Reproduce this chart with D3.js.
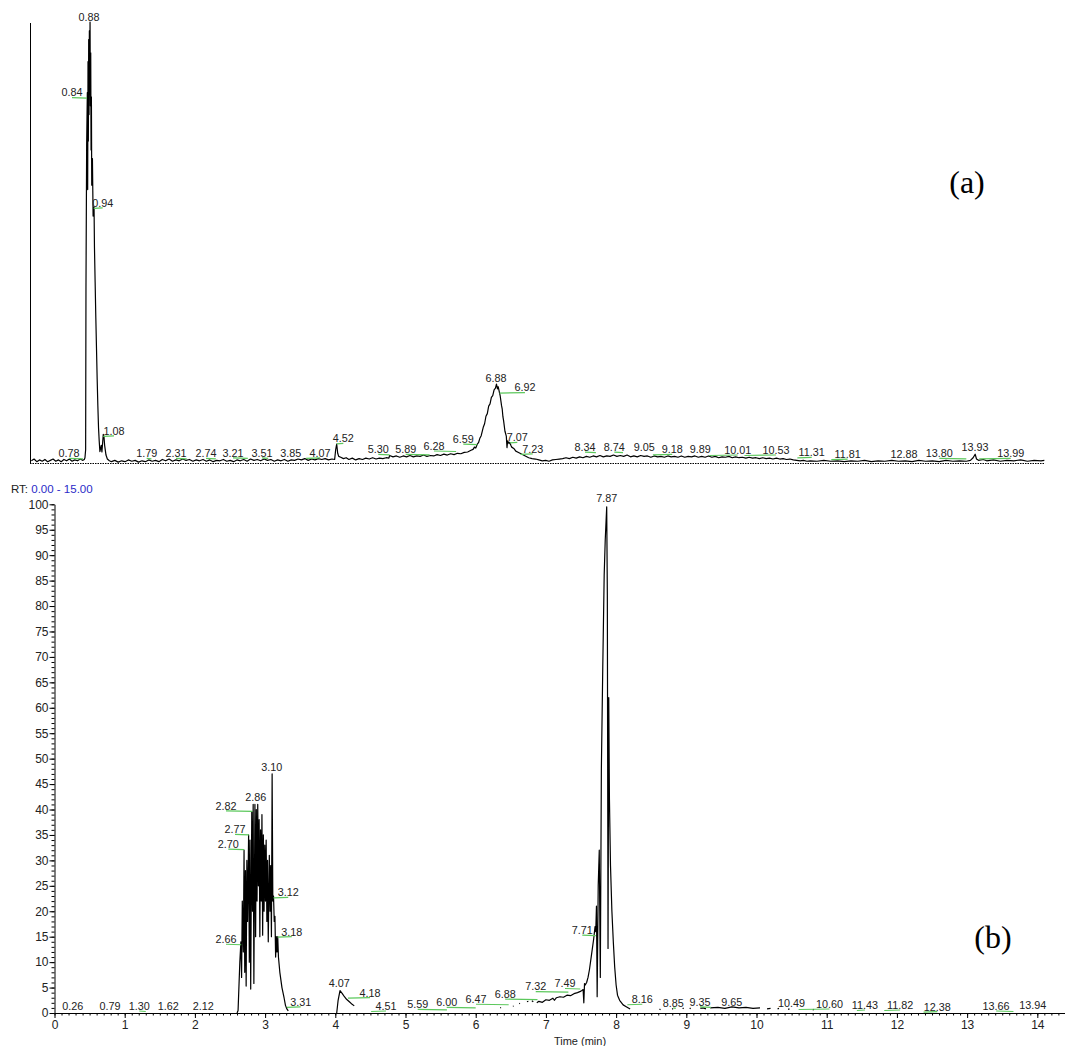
<!DOCTYPE html>
<html>
<head>
<meta charset="utf-8">
<script src="https://cdn.jsdelivr.net/npm/d3@7"></script>
<style>
  body { margin: 0; background: #fff; }
  text { font-family: Arial, "Liberation Sans", sans-serif; fill: #222; }
  .trace { fill: none; stroke: #000; stroke-width: 1.2; stroke-linejoin: round; }
  .lead { stroke: #5cc85c; stroke-width: 1.2; }
  .axis path, .axis line { stroke: #000; }
  .axis text { font-size: 12px; fill: #222; }
</style>
</head>
<body>
<svg id="chart" width="1065" height="1046"></svg>
<script>
// ---- data (time in min, relative abundance %) ----

// (a) upper trace
const traceA = [
  [0.02,0.5],[0.06,0.9],[0.10,0.3],[0.14,0.7],[0.18,0.4],[0.22,0.8],[0.26,0.3],[0.30,0.6],[0.34,0.9],[0.38,0.4],
  [0.42,0.7],[0.46,0.3],[0.50,0.8],[0.54,0.5],[0.58,0.9],[0.62,0.4],[0.66,0.7],[0.70,0.5],[0.74,0.9],[0.78,0.6],
  [0.80,0.8],[0.81,1.2],[0.82,3],[0.825,40],[0.835,72],[0.845,84],[0.85,62],[0.855,91],[0.86,73],[0.865,96],
  [0.87,79],[0.875,98],[0.88,86],[0.885,100],[0.89,81],[0.895,93],[0.90,71],[0.905,83],[0.91,63],[0.92,69],
  [0.93,56],[0.944,58],[0.95,49],[0.96,41],[0.97,33],[0.98,26],[0.99,19],[1.00,13],[1.01,8],[1.02,5],
  [1.03,2.6],[1.05,4],[1.06,2.5],[1.08,6.5],[1.09,6],[1.10,4],[1.12,1.8],[1.14,0.9],[1.17,0.5],
  [1.2,0.3],[1.25,0.6],[1.3,0.2],[1.35,0.5],[1.4,0.3],[1.45,0.7],[1.5,0.4],[1.55,0.6],[1.6,0.2],[1.65,0.5],
  [1.7,0.3],[1.75,0.7],[1.8,0.4],[1.85,0.6],[1.9,0.3],[1.95,0.8],[2.0,0.5],[2.05,0.9],[2.1,0.4],[2.15,0.7],
  [2.2,0.5],[2.25,0.9],[2.3,0.6],[2.35,0.8],[2.4,0.4],[2.45,0.7],[2.5,0.5],[2.55,0.8],[2.6,0.4],[2.65,0.7],
  [2.7,0.3],[2.75,0.6],[2.8,0.5],[2.85,0.8],[2.9,0.4],[2.95,0.6],[3.0,0.3],[3.05,0.7],[3.1,0.5],[3.15,0.8],
  [3.2,0.4],[3.25,0.9],[3.3,0.6],[3.35,0.8],[3.4,0.5],[3.45,0.9],[3.5,0.6],[3.55,0.8],[3.6,0.4],[3.65,0.7],
  [3.7,0.5],[3.75,0.8],[3.8,0.4],[3.85,0.7],[3.9,0.6],[3.95,0.9],[4.0,0.7],[4.05,1.0],[4.1,0.6],[4.15,0.9],
  [4.2,0.7],[4.25,1.0],[4.3,0.8],[4.35,1.0],[4.4,0.7],[4.45,0.9],[4.49,0.8],[4.505,3.0],[4.52,4.3],[4.535,2.2],
  [4.55,1.5],[4.58,1.3],[4.62,1.0],[4.66,1.2],[4.7,0.8],[4.75,1.1],[4.8,0.7],[4.85,1.0],[4.9,0.8],[4.95,1.1],
  [5.0,0.9],[5.05,1.2],[5.1,0.9],[5.15,1.1],[5.2,1.0],[5.25,1.2],[5.29,1.1],[5.30,1.7],[5.35,1.4],[5.4,1.6],
  [5.45,1.3],[5.5,1.6],[5.55,1.4],[5.6,1.7],[5.65,1.4],[5.7,1.6],[5.75,1.5],[5.8,1.8],[5.85,1.5],[5.9,1.7],
  [5.95,1.6],[6.0,1.9],[6.05,1.7],[6.1,2.0],[6.15,1.8],[6.2,2.1],[6.25,1.9],[6.3,2.2],[6.35,2.1],[6.4,2.4],
  [6.45,2.5],[6.5,2.9],[6.53,3.1],[6.55,3.6],[6.57,3.4],[6.59,4.2],[6.61,4.6],[6.63,5.6],[6.65,6.2],[6.68,8.1],
  [6.70,8.9],[6.72,10.6],[6.74,11.2],[6.76,12.9],[6.78,13.4],[6.80,14.9],[6.82,15.3],[6.84,16.6],[6.86,17.0],[6.875,17.9],
  [6.89,16.8],[6.90,17.3],[6.92,15.9],[6.93,15.2],[6.95,13.0],[6.96,12.2],[6.97,10.5],[6.98,9.6],[7.00,7.2],[7.02,6.1],
  [7.03,3.5],[7.04,5.0],[7.06,4.4],[7.07,4.7],[7.09,3.9],[7.10,3.6],[7.13,3.3],[7.16,2.7],[7.20,2.4],[7.25,2.0],
  [7.30,1.6],[7.35,1.2],[7.40,1.0],[7.45,0.9],[7.50,0.7],
  [7.55,0.5],[7.60,0.6],[7.65,0.4],[7.70,0.7],[7.75,0.8],[7.80,0.9],[7.85,1.0],[7.9,1.2],[7.95,1.0],[8.0,1.3],
  [8.05,1.1],[8.1,1.4],[8.15,1.2],[8.2,1.5],[8.25,1.3],[8.3,1.6],[8.35,1.4],[8.4,1.7],[8.45,1.4],[8.5,1.6],
  [8.55,1.5],[8.6,1.8],[8.65,1.5],[8.7,1.7],[8.75,1.5],[8.8,1.8],[8.85,1.4],[8.9,1.6],[8.95,1.4],[9.0,1.7],
  [9.05,1.5],[9.1,1.6],[9.15,1.3],[9.2,1.6],[9.25,1.4],[9.3,1.5],[9.35,1.3],[9.4,1.6],[9.45,1.4],[9.5,1.5],
  [9.55,1.3],[9.6,1.6],[9.65,1.3],[9.7,1.5],[9.75,1.4],[9.8,1.6],[9.85,1.3],[9.9,1.5],[9.95,1.3],[10.0,1.6],
  [10.05,1.3],[10.1,1.5],[10.15,1.2],[10.2,1.4],[10.25,1.3],[10.3,1.5],[10.35,1.2],[10.4,1.4],[10.45,1.2],[10.5,1.3],
  [10.55,1.1],[10.6,1.3],[10.65,1.1],[10.7,1.2],[10.75,1.0],[10.8,1.2],[10.85,1.0],[10.9,1.1],[10.95,0.9],[11.0,1.1],
  [11.05,0.9],[11.1,1.0],[11.15,0.8],[11.2,0.9],[11.25,0.7],[11.3,0.6],[11.35,0.5],[11.4,0.6],[11.45,0.4],[11.5,0.5],
  [11.6,0.4],[11.7,0.6],[11.8,0.4],[11.9,0.5],[12.0,0.3],[12.1,0.5],[12.2,0.4],[12.3,0.6],[12.4,0.3],[12.5,0.5],
  [12.6,0.4],[12.7,0.6],[12.8,0.4],[12.9,0.5],[13.0,0.3],[13.1,0.6],[13.2,0.4],[13.3,0.5],[13.4,0.3],[13.5,0.6],
  [13.6,0.4],[13.7,0.5],[13.8,0.4],[13.86,0.6],[13.90,1.2],[13.93,2.0],[13.95,0.9],[13.98,0.6],[14.05,0.8],[14.1,0.5],
  [14.2,0.7],[14.3,0.4],[14.4,0.6],[14.5,0.5],[14.6,0.7],[14.7,0.4],[14.8,0.6],[14.9,0.5],[14.95,0.6]
];

// (a) peak labels: text, label time, label level (centre of text)
const peaksA = [
  { rt: "0.88", lt: 0.87,  ly: 101.0 }, { rt: "0.84", lt: 0.619, ly: 84.0 },
  { rt: "0.94", lt: 1.071, ly: 59.0 },  { rt: "0.78", lt: 0.575, ly: 2.2 },
  { rt: "1.08", lt: 1.238, ly: 7.3 },   { rt: "1.79", lt: 1.72,  ly: 2.2 },
  { rt: "2.31", lt: 2.152, ly: 2.2 },   { rt: "2.74", lt: 2.594, ly: 2.2 },
  { rt: "3.21", lt: 2.992, ly: 2.3 },   { rt: "3.51", lt: 3.419, ly: 2.3 },
  { rt: "3.85", lt: 3.842, ly: 2.3 },   { rt: "4.07", lt: 4.274, ly: 2.3 },
  { rt: "4.52", lt: 4.618, ly: 5.6 },   { rt: "5.30", lt: 5.133, ly: 3.1 },
  { rt: "5.89", lt: 5.537, ly: 3.1 },   { rt: "6.28", lt: 5.954, ly: 3.85 },
  { rt: "6.59", lt: 6.386, ly: 5.4 },   { rt: "6.88", lt: 6.868, ly: 19.2 },
  { rt: "6.92", lt: 7.295, ly: 17.1 },  { rt: "7.07", lt: 7.182, ly: 5.8 },
  { rt: "7.23", lt: 7.409, ly: 3.2 },   { rt: "8.34", lt: 8.18,  ly: 3.6 },
  { rt: "8.74", lt: 8.612, ly: 3.6 },   { rt: "9.05", lt: 9.054, ly: 3.6 },
  { rt: "9.18", lt: 9.466, ly: 3.1 },   { rt: "9.89", lt: 9.88,  ly: 3.2 },
  { rt: "10.01", lt: 10.43, ly: 2.95 }, { rt: "10.53", lt: 10.995, ly: 2.95 },
  { rt: "11.31", lt: 11.521, ly: 2.4 }, { rt: "11.81", lt: 12.051, ly: 2.0 },
  { rt: "12.88", lt: 12.881, ly: 2.0 }, { rt: "13.80", lt: 13.402, ly: 2.2 },
  { rt: "13.93", lt: 13.928, ly: 3.6 }, { rt: "13.99", lt: 14.454, ly: 2.2 }
];

// (b) lower trace, null = no signal drawn
const traceB = [
  [2.60,0],[2.615,0.5],[2.64,10],[2.655,14],[2.665,7],[2.675,22],[2.69,12],[2.70,32],[2.71,8],[2.72,28],
  [2.73,5.3],[2.74,30],[2.75,18],[2.765,35],[2.775,10],[2.785,34],[2.795,4.7],[2.81,39.6],[2.82,20],[2.83,41],
  [2.84,5.8],[2.855,41],[2.865,15],[2.875,40],[2.885,22],[2.895,41],[2.905,25],[2.915,38],[2.925,15],[2.935,36],
  [2.945,22],[2.955,39],[2.965,15.3],[2.975,35],[2.985,20],[2.995,33],[3.005,22],[3.015,34],[3.025,18],[3.035,30],
  [3.045,14],[3.06,31],[3.07,20],[3.08,29],[3.09,15],[3.10,47],[3.11,22],[3.12,23],[3.13,18],[3.14,19],
  [3.15,11],[3.16,15],[3.17,12],[3.18,15],[3.19,11],[3.21,8],[3.24,5],[3.27,3],[3.29,1.5],[3.31,0.8],[3.33,0.4],
  null,
  [4.02,0],[4.04,2.5],[4.067,4.4],[4.10,3.8],[4.13,3.2],[4.16,2.7],[4.20,2.2],[4.24,1.7],[4.27,1.4],
  null, [6.35,1.0],[6.36,1.1], null, [6.53,1.3],[6.54,1.4], null, [6.62,1.8],[6.63,1.9], null,
  [6.73,2.2],[6.75,2.3], null, [6.80,2.4],[6.82,2.2], null,
  [6.87,2.0],[6.90,2.3],[6.95,2.1],[7.00,2.6],[7.05,2.5],[7.10,2.9],[7.12,2.5],[7.15,3.0],[7.2,3.2],[7.25,3.1],
  [7.30,3.5],[7.35,3.4],[7.40,3.8],[7.45,4.0],[7.50,4.3],[7.53,4.6],[7.54,2.0],[7.55,5.8],[7.56,5.5],[7.58,6],
  [7.60,7],[7.62,8.5],[7.64,10.5],[7.66,12.5],[7.68,14.5],[7.70,17],[7.71,16],[7.72,21],[7.73,3.2],[7.745,25],
  [7.76,32],[7.775,7],[7.79,48],[7.81,68],[7.83,86],[7.845,93],[7.866,99.5],[7.875,82],[7.885,12.7],[7.895,62],
  [7.905,42],[7.92,29],[7.94,20],[7.96,14],[7.98,9],[8.00,5.5],[8.02,3.5],[8.05,2.5],[8.10,1.6],[8.15,1.2],[8.20,0.8],
  null, [8.62,0.6],[8.63,0.8], null, [8.80,0.9],[8.81,0.7], null, [8.95,1.0],[8.96,0.8], null,
  [9.05,0.8],[9.06,1.0], null, [9.20,0.9],[9.24,1.0],[9.28,0.8], null,
  [9.34,1.0],[9.45,1.1],[9.55,0.9],[9.65,1.2],[9.75,1.0],[9.85,1.1],[9.95,0.9],[10.05,1.0], null,
  [10.15,0.8],[10.2,0.9], null, [10.3,0.8],[10.32,0.9], null, [10.45,0.7],[10.47,0.8], null, [10.8,0.6],[10.82,0.7]
];

const peaksB = [
  { rt: "0.26", lt: 0.259, ly: 1.38 }, { rt: "0.79", lt: 0.79, ly: 1.38 },
  { rt: "1.30", lt: 1.208, ly: 1.38 }, { rt: "1.62", lt: 1.62, ly: 1.38 },
  { rt: "2.12", lt: 2.12, ly: 1.38 },  { rt: "2.66", lt: 2.443, ly: 14.5 },
  { rt: "2.70", lt: 2.476, ly: 33.2 }, { rt: "2.77", lt: 2.571, ly: 36.1 },
  { rt: "2.82", lt: 2.443, ly: 40.7 }, { rt: "2.86", lt: 2.866, ly: 42.4 },
  { rt: "3.10", lt: 3.094, ly: 48.3 }, { rt: "3.12", lt: 3.33, ly: 23.7 },
  { rt: "3.18", lt: 3.38, ly: 16.0 },  { rt: "3.31", lt: 3.507, ly: 2.2 },
  { rt: "4.07", lt: 4.057, ly: 5.96 }, { rt: "4.18", lt: 4.494, ly: 4.0 },
  { rt: "4.51", lt: 4.722, ly: 1.38 }, { rt: "5.59", lt: 5.174, ly: 1.7 },
  { rt: "6.00", lt: 5.587, ly: 2.1 },  { rt: "6.47", lt: 6.004, ly: 2.7 },
  { rt: "6.88", lt: 6.42, ly: 3.7 },   { rt: "7.32", lt: 6.855, ly: 5.2 },
  { rt: "7.49", lt: 7.272, ly: 5.8 },  { rt: "7.71", lt: 7.518, ly: 16.3 },
  { rt: "7.87", lt: 7.866, ly: 101.2 },{ rt: "8.16", lt: 8.373, ly: 2.7 },
  { rt: "8.85", lt: 8.815, ly: 2.0 },  { rt: "9.35", lt: 9.195, ly: 2.2 },
  { rt: "9.65", lt: 9.646, ly: 2.2 },  { rt: "10.49", lt: 10.50, ly: 2.0 },
  { rt: "10.60", lt: 11.04, ly: 1.77 },{ rt: "11.43", lt: 11.545, ly: 1.57 },
  { rt: "11.82", lt: 12.045, ly: 1.57 },{ rt: "12.38", lt: 12.576, ly: 1.24 },
  { rt: "13.66", lt: 13.413, ly: 1.38 },{ rt: "13.94", lt: 13.934, ly: 1.5 }
];

const xTickLabels = [0, 1, 2, 3, 4, 5, 6, 7, 8, 9, 10, 11, 12, 13, 14];
const yTickLabels = [0, 5, 10, 15, 20, 25, 30, 35, 40, 45, 50, 55, 60, 65, 70, 75, 80, 85, 90, 95, 100];

// ---- drawing ----
const svg = d3.select("#chart");

// upper panel scales
const xA = d3.scaleLinear().domain([0, 15]).range([30, 1047.75]);
const yA = d3.scaleLinear().domain([0, 100]).range([463, 22]);

// lower panel scales
const xB = d3.scaleLinear().domain([0, 14.4]).range([54.5, 1065.4]);
const yB = d3.scaleLinear().domain([0, 100]).range([1013, 504.3]);

function drawTrace(data, x, y) {
  const line = d3.line()
    .defined(d => d !== null)
    .x(d => x(d[0]))
    .y(d => y(d[1]));
  svg.append("path").datum(data).attr("class", "trace").attr("d", line);
}

function drawLabels(peaks, x, y) {
  const g = svg.append("g");
  peaks.forEach(p => {
    const px = x(+p.rt), lx = x(p.lt), cy = y(p.ly);
    if (Math.abs(px - lx) > 2) {
      g.append("line").attr("class", "lead")
        .attr("x1", px).attr("y1", cy + 5.5)
        .attr("x2", lx).attr("y2", cy + 5);
    }
    g.append("text")
      .attr("x", lx).attr("y", cy + 3.9)
      .attr("text-anchor", "middle")
      .style("font-size", "10.8px")
      .text(p.rt);
  });
}

// --- panel (a) ---
svg.append("line")
  .attr("x1", xA(0) + 0.5).attr("x2", xA(0) + 0.5)
  .attr("y1", yA(100) + 1).attr("y2", yA(0))
  .attr("stroke", "#000");
svg.append("line")
  .attr("x1", xA(0)).attr("x2", xA(14.96))
  .attr("y1", yA(0) + 0.5).attr("y2", yA(0) + 0.5)
  .attr("stroke", "#000").attr("stroke-dasharray", "1.5,1");

drawTrace(traceA, xA, yA);
drawLabels(peaksA, xA, yA);

svg.append("text")
  .attr("x", 967).attr("y", 193)
  .attr("text-anchor", "middle")
  .style("font-family", "'Liberation Serif', 'Times New Roman', serif")
  .style("font-size", "32px")
  .style("fill", "#000")
  .text("(a)");

// --- panel (b) ---
const rt = svg.append("text").attr("x", 11).attr("y", 493).style("font-size", "11.5px");
rt.append("tspan").text("RT: ");
rt.append("tspan").style("fill", "#2a2ac8").text("0.00 - 15.00");

drawTrace(traceB, xB, yB);

// y axis: minor ticks every 1, labelled ticks every 5
svg.append("g").attr("class", "axis")
  .attr("transform", `translate(${xB(0)},0)`)
  .call(d3.axisLeft(yB).tickValues(d3.range(0, 101)).tickSize(3).tickSizeOuter(0).tickFormat(""));
svg.append("g").attr("class", "axis")
  .attr("transform", `translate(${xB(0)},0)`)
  .call(d3.axisLeft(yB).tickValues(yTickLabels).tickSize(5).tickSizeOuter(0).tickPadding(1))
  .call(g => g.select(".domain").remove());

// x axis: minor ticks every 0.1 min, labelled ticks every minute
svg.append("g").attr("class", "axis")
  .attr("transform", `translate(0,${yB(0)})`)
  .call(d3.axisBottom(xB).tickValues(d3.range(0, 145).map(i => i / 10)).tickSize(2.5).tickSizeOuter(0).tickFormat(""));
svg.append("g").attr("class", "axis")
  .attr("transform", `translate(0,${yB(0)})`)
  .call(d3.axisBottom(xB).tickValues(xTickLabels).tickSize(5).tickSizeOuter(0).tickPadding(2))
  .call(g => g.select(".domain").remove());

svg.append("text")
  .attr("x", 580).attr("y", 1044.5)
  .attr("text-anchor", "middle")
  .style("font-size", "11px")
  .text("Time (min)");

drawLabels(peaksB, xB, yB);

svg.append("text")
  .attr("x", 993).attr("y", 948)
  .attr("text-anchor", "middle")
  .style("font-family", "'Liberation Serif', 'Times New Roman', serif")
  .style("font-size", "32px")
  .style("fill", "#000")
  .text("(b)");
</script>
</body>
</html>
